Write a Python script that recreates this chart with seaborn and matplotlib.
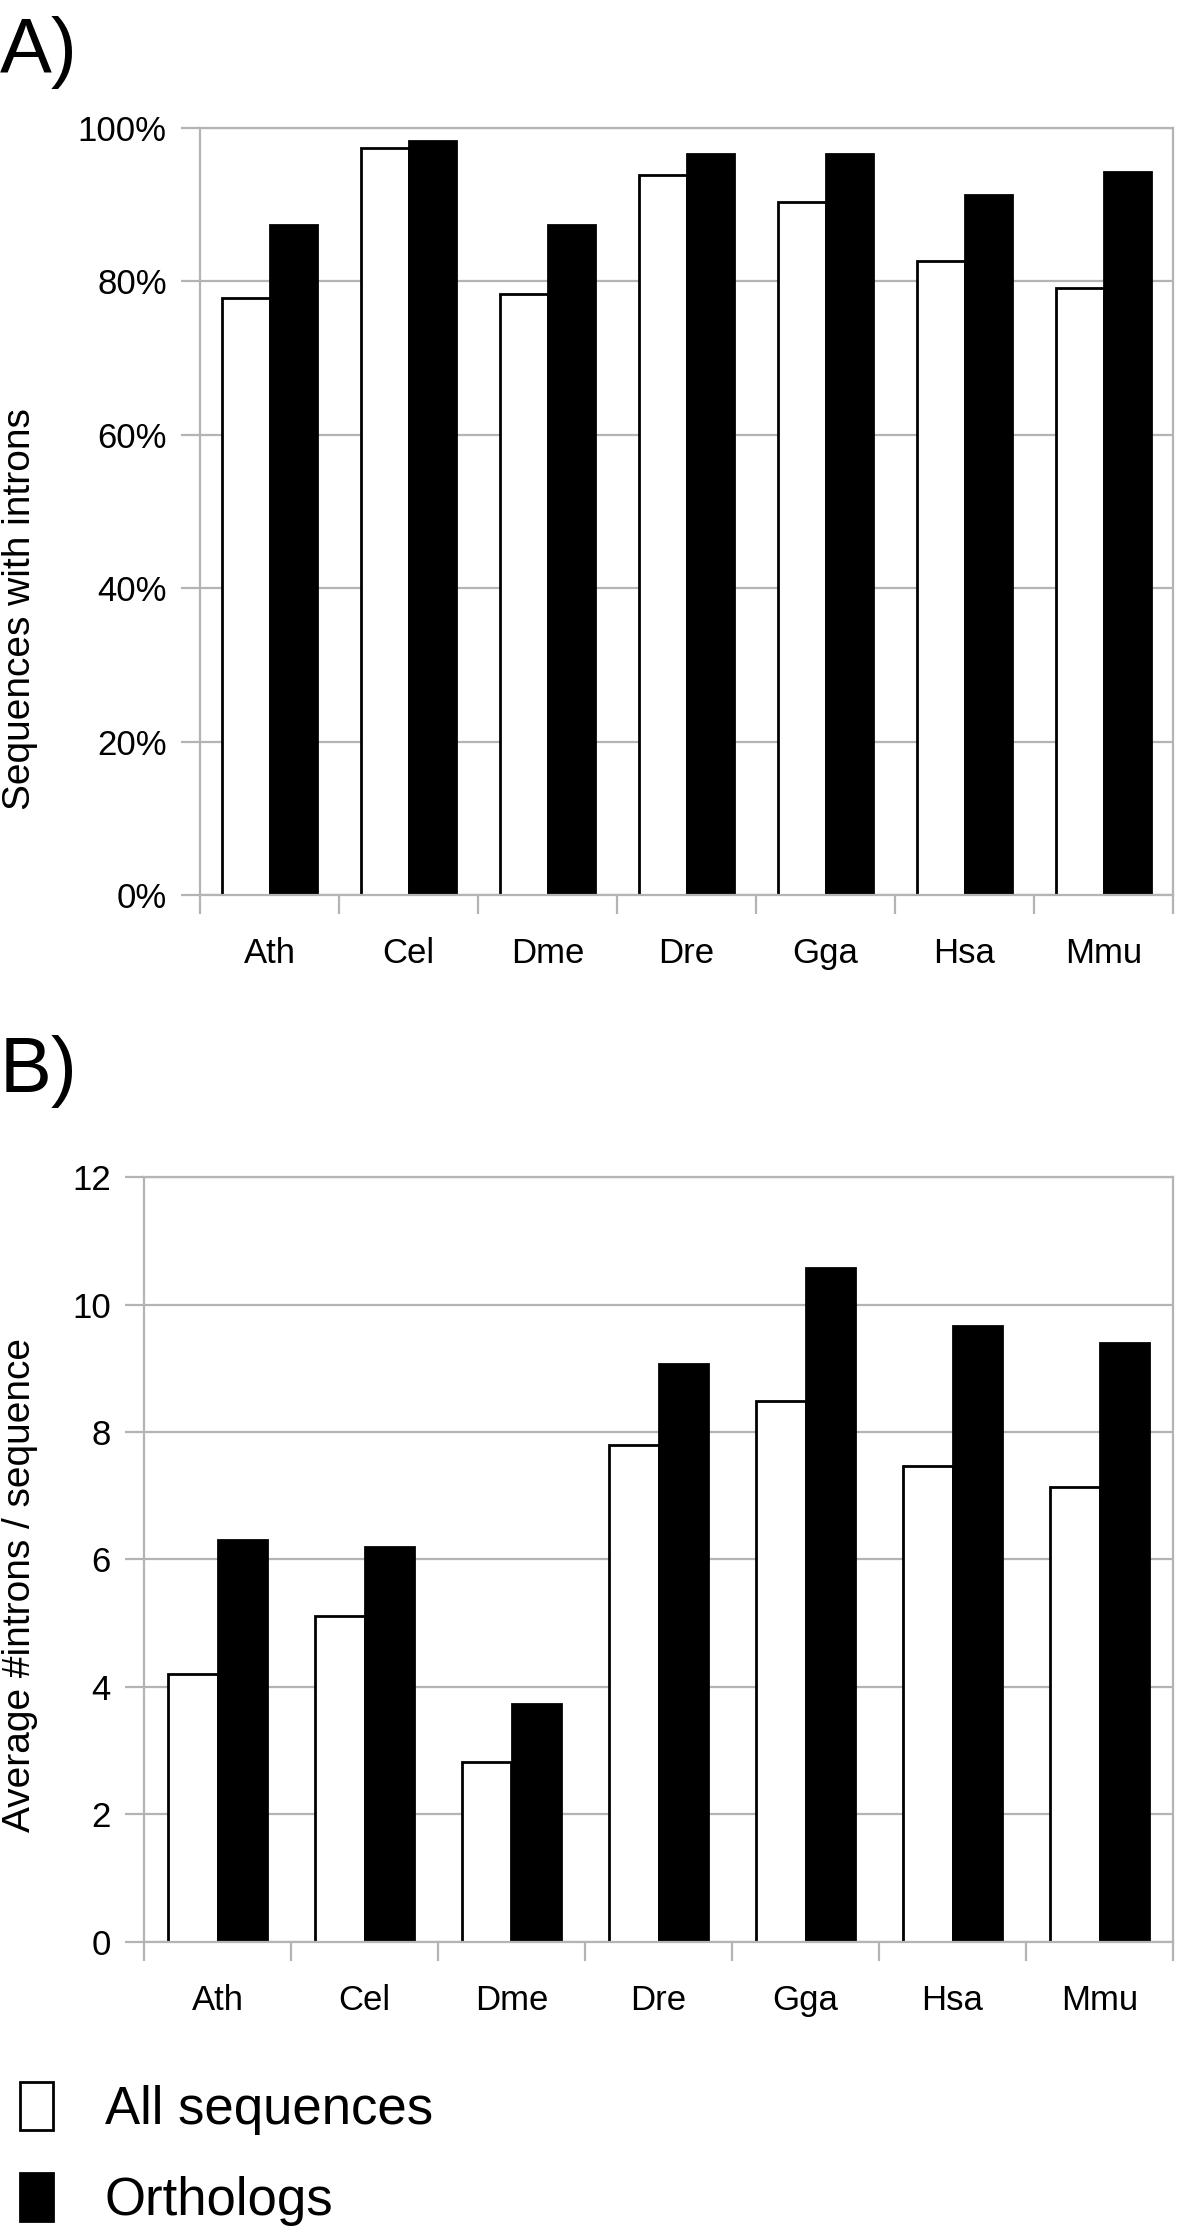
import pandas as pd
import numpy as np
import matplotlib.pyplot as plt
import seaborn as sns
from matplotlib.patches import Patch
from matplotlib.ticker import FuncFormatter, MultipleLocator

sns.set_style("white")
plt.rcParams['font.family'] = ['Liberation Sans', 'DejaVu Sans']
plt.rcParams['text.color'] = 'black'
plt.rcParams['axes.labelcolor'] = 'black'
plt.rcParams['xtick.color'] = 'black'
plt.rcParams['ytick.color'] = 'black'

# Species and two series
species = ['Ath', 'Cel', 'Dme', 'Dre', 'Gga', 'Hsa', 'Mmu']
series = ['All sequences', 'Orthologs']

# A) percentage of sequences with introns
pct_all = [77.8, 97.4, 78.3, 93.8, 90.3, 82.7, 79.1]
pct_orth = [87.3, 98.3, 87.3, 96.6, 96.6, 91.2, 94.3]

# B) average number of introns per sequence
avg_all = [4.21, 5.11, 2.83, 7.79, 8.48, 7.46, 7.14]
avg_orth = [6.30, 6.20, 3.74, 9.07, 10.57, 9.67, 9.40]

GRID = '#b4b4b4'
palette = {'All sequences': 'white', 'Orthologs': 'black'}


def long_table(a, b):
    return pd.DataFrame({
        'Species': species * 2,
        'Series': [series[0]] * len(species) + [series[1]] * len(species),
        'Value': list(a) + list(b),
    })


def style_axis(ax, ymax, ystep):
    ax.set_xlim(-0.5, len(species) - 0.5)
    ax.set_ylim(0, ymax)
    ax.yaxis.set_major_locator(MultipleLocator(ystep))
    ax.grid(axis='y', color=GRID, linewidth=1.6)
    ax.set_axisbelow(True)
    for s in ax.spines.values():
        s.set_color(GRID)
        s.set_linewidth(1.6)
    # category boundaries get the visible tick marks
    ax.set_xticks(np.arange(-0.5, len(species)), minor=True)
    ax.tick_params(axis='x', which='major', bottom=True, length=0, pad=30,
                   labelsize=25, labelcolor='black')
    ax.tick_params(axis='x', which='minor', bottom=True, length=14, width=1.6,
                   color=GRID, direction='out')
    ax.tick_params(axis='y', left=True, length=14, width=1.6, color=GRID,
                   direction='out', pad=10, labelsize=25, labelcolor='black')
    ax.set_xlabel('')


fig = plt.figure(figsize=(12, 22.36), dpi=100)
ax_a = fig.add_axes([0.1667, 0.5997, 0.9775 - 0.1667, 0.9428 - 0.5997])
ax_b = fig.add_axes([0.12, 0.1315, 0.9775 - 0.12, 0.4736 - 0.1315])

sns.barplot(data=long_table(pct_all, pct_orth), x='Species', y='Value', hue='Series',
            palette=palette, edgecolor='black', linewidth=2.0, width=0.68,
            legend=False, ax=ax_a)
style_axis(ax_a, 100, 20)
ax_a.yaxis.set_major_formatter(FuncFormatter(lambda v, p: f'{v:.0f}%'))
ax_a.set_ylabel('Sequences with introns', fontsize=28)
ax_a.yaxis.set_label_coords(0.032, 0.7276, transform=fig.transFigure)

sns.barplot(data=long_table(avg_all, avg_orth), x='Species', y='Value', hue='Series',
            palette=palette, edgecolor='black', linewidth=2.0, width=0.68,
            legend=False, ax=ax_b)
style_axis(ax_b, 12, 2)
ax_b.set_ylabel('Average #introns / sequence', fontsize=28)
ax_b.yaxis.set_label_coords(0.032, 0.2911, transform=fig.transFigure)

fig.text(0.0, 0.993, 'A)', fontsize=56, va='top', ha='left')
fig.text(0.0, 0.537, 'B)', fontsize=56, va='top', ha='left')

handles = [Patch(facecolor=palette[s], edgecolor='black', linewidth=2.0) for s in series]
fig.legend(handles, series, loc='upper left', bbox_to_anchor=(0.017, 0.0690),
           frameon=False, fontsize=38, handlelength=0.62, handleheight=1.02,
           handletextpad=0.98, labelspacing=0.73, borderpad=0, borderaxespad=0)

fig.savefig('out.png', dpi=100)
